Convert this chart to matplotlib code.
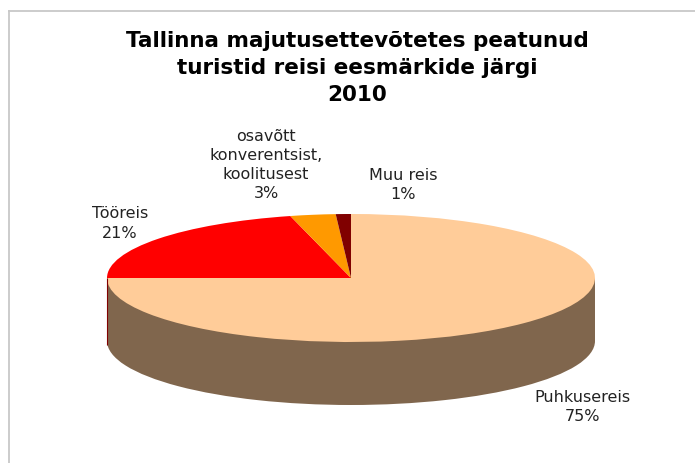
"""Tallinn accommodation guests by trip purpose, 2010: tilted 3D-style pie."""
import matplotlib
matplotlib.use("Agg")
import matplotlib.pyplot as plt
from matplotlib.lines import Line2D
from matplotlib.patches import Rectangle

TITLE = "Tallinna majutusettevõtetes peatunud\nturistid reisi eesmärkide järgi\n2010"
categories = ["Puhkusereis", "Tööreis", "osavõtt\nkonverentsist,\nkoolitusest", "Muu reis"]
shares = [75, 21, 3, 1]
colors = ["#FFCC99", "#FF0000", "#FF9900", "#800000"]
SIDE = "#80664D"
FRAME = "#C8C8C8"

W, H = 695, 463
CX, CY, RX, RY = 351, 278, 244, 64   # ellipse of the top face, pixels
DEPTH = 63 / RY

# label centres, pixels
label_pos = [(582.5, 407), (120, 223.5), (266, 165), (403, 185)]

fig = plt.figure(figsize=(W / 100, H / 100), dpi=100, facecolor="white")
ax = fig.add_axes([0, 0, 1, 1])

# side wall first, then the top face over it
ax.pie([1], colors=[SIDE], center=(0, -DEPTH), radius=1, wedgeprops={"linewidth": 0})
ax.add_patch(Rectangle((-1, -DEPTH), 2, DEPTH, facecolor=SIDE, edgecolor="none"))
ax.plot([-1, -1], [-1.05, 0], color="#800000", lw=0.8, solid_capstyle="butt")
ax.pie(shares, colors=colors, startangle=90, counterclock=False, radius=1,
       wedgeprops={"linewidth": 0})

ax.set_aspect("auto")
ax.set_xlim(-CX / RX, (W - CX) / RX)
ax.set_ylim((CY - H) / RY, CY / RY)
ax.axis("off")

# the gray chart border, only top and left are inside the crop
fig.add_artist(Line2D([9 / W, 9 / W], [0, 1 - 11 / H], color=FRAME, lw=1.3))
fig.add_artist(Line2D([9 / W, 1], [1 - 11 / H, 1 - 11 / H], color=FRAME, lw=1.3))

fig.text(357 / W, 1 - 68 / H, TITLE, ha="center", va="center", fontsize=15.5,
         fontweight="bold", color="black", linespacing=1.44)

for name, share, (px, py) in zip(categories, shares, label_pos):
    fig.text(px / W, 1 - py / H, f"{name}\n{share}%", ha="center", va="center",
             fontsize=11.5, color="#222222", linespacing=1.36)

fig.savefig("out.png", dpi=100)
